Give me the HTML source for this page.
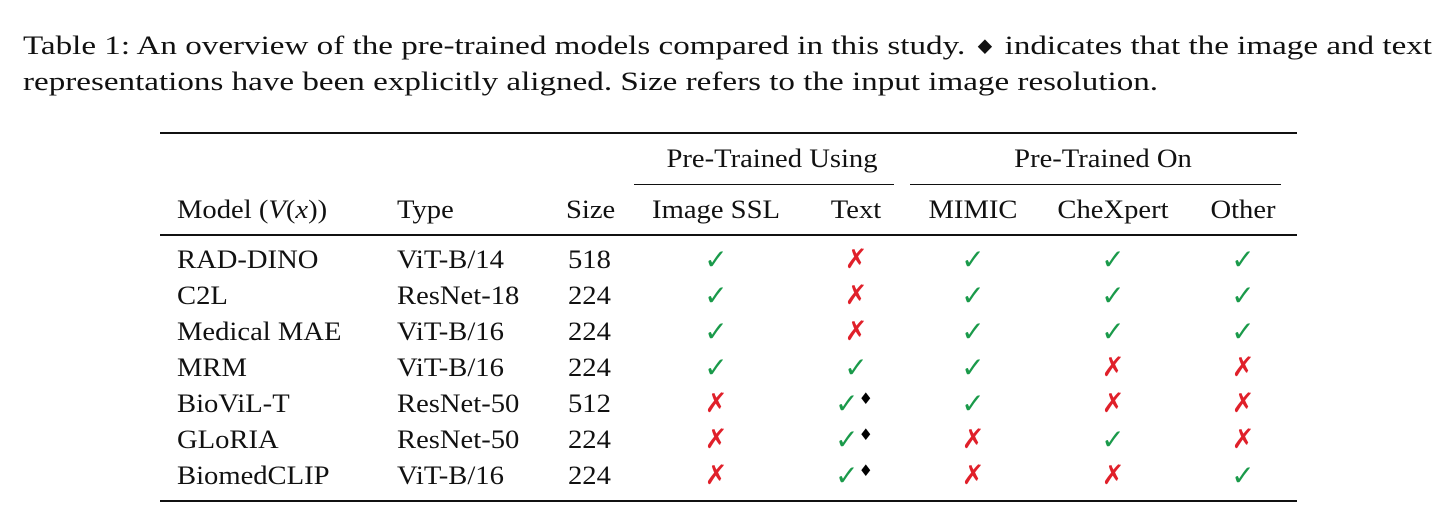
<!DOCTYPE html>
<html><head><meta charset="utf-8"><style>
body{margin:0;width:1455px;height:531px;background:#fff;position:relative;overflow:hidden;font-family:"Liberation Serif",serif;font-size:26px;color:#111}
.t{position:absolute;line-height:36px;white-space:nowrap;transform:scaleX(1.1);transform-origin:left center}
.c{transform:translateX(-50%) scaleX(1.1);transform-origin:center center}
.m{transform:translateX(-50%);}
.cap{transform:scaleX(1.273)}
.rule{position:absolute;background:#111}
.ck{color:#1a9a4a;font-family:"DejaVu Sans",sans-serif;font-size:28px;font-weight:bold;line-height:36px}
.cx{color:#e0202a;font-family:"DejaVu Sans",sans-serif;font-size:27px;font-weight:bold;line-height:36px}
.dm{font-size:16px;color:#000;font-family:"DejaVu Sans",sans-serif;position:relative;top:-9px;line-height:10px}
</style></head><body>
<div class="t cap" style="left:23px;top:28px">Table 1: An overview of the pre-trained models compared in this study. <span style="font-family:'DejaVu Sans';font-size:20px">♦</span> indicates that the image and text</div>
<div class="t cap" style="left:23px;top:64px">representations have been explicitly aligned. Size refers to the input image resolution.</div>
<div class="rule" style="left:160px;top:132px;width:1137px;height:2px"></div>
<div class="rule" style="left:634px;top:184px;width:260px;height:1px"></div>
<div class="rule" style="left:910px;top:184px;width:371px;height:1px"></div>
<div class="rule" style="left:160px;top:234px;width:1137px;height:1.5px"></div>
<div class="rule" style="left:160px;top:500px;width:1137px;height:2px"></div>
<div class="t c" style="left:772px;top:141px">Pre-Trained Using</div>
<div class="t c" style="left:1103px;top:141px">Pre-Trained On</div>
<div id="tbl"></div>
<script>
const models=["RAD-DINO","C2L","Medical MAE","MRM","BioViL-T","GLoRIA","BiomedCLIP"];
const types=["ViT-B/14","ResNet-18","ViT-B/16","ViT-B/16","ResNet-50","ResNet-50","ViT-B/16"];
const sizes=["518","224","224","224","512","224","224"];
const imgSSL=[1,1,1,1,0,0,0];
const text=[0,0,0,1,2,2,2];
const mimic=[1,1,1,1,1,0,0];
const chexpert=[1,1,1,0,0,1,0];
const other=[1,1,1,0,0,0,1];
const root=document.getElementById('tbl');
function add(txt,x,y,cls,name,html){
  const d=document.createElement('div');
  d.className='t'+(cls?' '+cls:'');
  d.style.left=x+'px';d.style.top=(y-18)+'px';
  if(html)d.innerHTML=html;else d.textContent=txt;
  
  
  root.appendChild(d);
}
add('',177,210,'','header-model','Model (<i>V</i>(<i>x</i>))');
add('Type',397,210,'','header-type');
add('Size',566,210,'','header-size');
add('Image SSL',716,210,'c','header-image-ssl');
add('Text',856,210,'c','header-text');
add('MIMIC',973,210,'c','header-mimic');
add('CheXpert',1113,210,'c','header-chexpert');
add('Other',1243,210,'c','header-other');
function mark(v){
  if(v===0)return '<span class="cx">✗</span>';
  if(v===2)return '<span class="ck">✓</span><span class="dm">♦</span>';
  return '<span class="ck">✓</span>';
}
models.forEach((m,i)=>{
  const y=260+i*36;
  add(m,177,y,'','model-name');
  add(types[i],397,y,'','model-type');
  add(sizes[i],568,y,'','model-size');
  add('',716,y,'m','image-ssl-mark',mark(imgSSL[i]));
  add('',text[i]===2?854:856,y,'m','text-mark',mark(text[i]));
  add('',973,y,'m','mimic-mark',mark(mimic[i]));
  add('',1113,y,'m','chexpert-mark',mark(chexpert[i]));
  add('',1243,y,'m','other-mark',mark(other[i]));
});
</script>
</body></html>
